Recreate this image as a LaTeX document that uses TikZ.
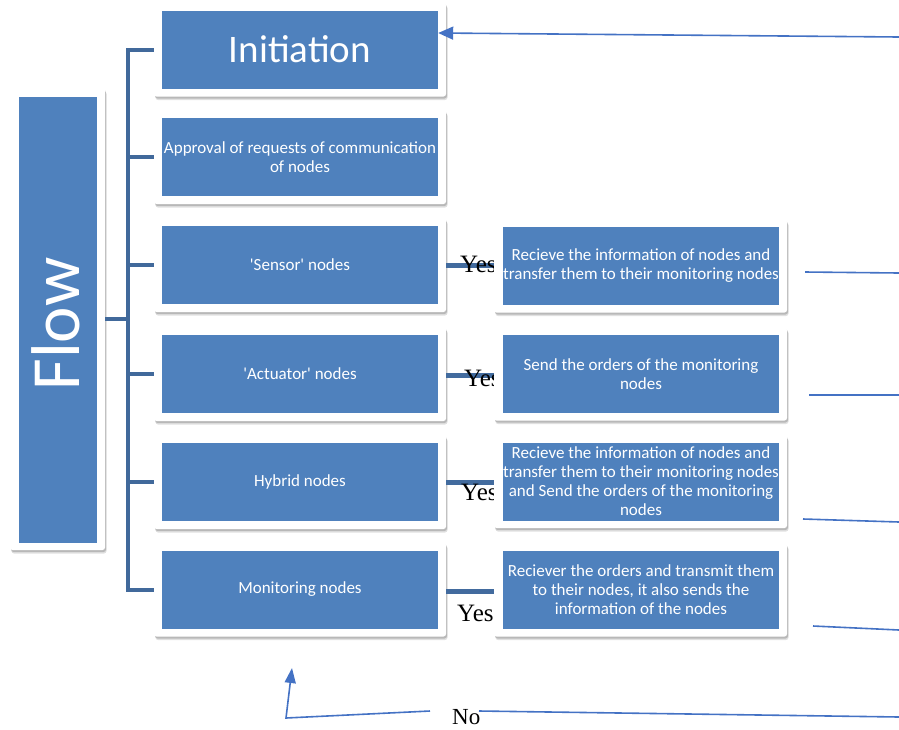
\documentclass[tikz,border=0pt]{standalone}
\usepackage{fontspec}
\setmainfont{Carlito}
\newfontfamily\timesf{Liberation Serif}
\usetikzlibrary{shadows,arrows.meta}
\definecolor{obox}{HTML}{4F81BD}
\definecolor{busc}{HTML}{41699B}
\definecolor{thinc}{HTML}{4472C4}
\begin{document}
\begin{tikzpicture}[x=1pt,y=-1pt,
  card/.style={fill=white, draw=none, rounded corners=2.5pt, inner sep=0pt,
    drop shadow={shadow xshift=1pt, shadow yshift=-2pt, opacity=0.18, fill=black},
    drop shadow={shadow xshift=1.5pt, shadow yshift=-3.5pt, opacity=0.12, fill=black}},
  blue/.style={fill=obox, draw=none, inner sep=0pt, text=white, align=center},
  lcard/.style={card, minimum width=292pt, minimum height=94pt},
  lblue/.style={blue, minimum width=276pt, minimum height=78pt, font=\fontsize{17}{19}\selectfont},
  rcard/.style={card, minimum width=293pt, minimum height=93pt},
  rblue/.style={blue, minimum width=276pt, minimum height=78pt, font=\fontsize{17}{19}\selectfont},
  busline/.style={draw=busc, line width=4pt},
  link/.style={draw=busc!90!obox, line width=5pt},
  thinline/.style={draw=thinc, line width=1.6pt},
  yes/.style={anchor=base west, inner sep=0pt, font=\timesf\fontsize{25}{25}\selectfont}
]
\useasboundingbox (0,0) rectangle (899,729);

% Flow
\node[card, minimum width=95pt, minimum height=462pt] (cFlow) at (57.5,319) {};
\node[blue, minimum width=78pt, minimum height=446pt] (flow) at (58,320) {};
\node[text=white, inner sep=0pt, rotate=90, font=\fontsize{69}{69}\selectfont] (flowt) at (56,324) {Flow};

% left cards
\node[lcard] (cInit) at (300,49.5) {};
\node[lblue, font=\fontsize{39}{39}\selectfont] (init) at (300,49.5) {Initiation};
\node[lcard] (cAppr) at (300,157) {};
\node[lblue] (appr) at (300,157) {Approval of requests of communication\\of nodes};
\node[lcard] (cSens) at (300,265) {};
\node[lblue] (sens) at (300,265) {\textquotesingle Sensor\textquotesingle\ nodes};
\node[lcard] (cAct) at (300,374) {};
\node[lblue] (act) at (300,374) {\textquotesingle Actuator\textquotesingle\ nodes};
\node[lcard] (cHyb) at (300,482) {};
\node[lblue] (hyb) at (300,482) {Hybrid nodes};
\node[lcard] (cMon) at (300,589.5) {};
\node[lblue] (mon) at (300,589.5) {Monitoring nodes};

% bus
\coordinate (busx) at (128,0);
\draw[busline] (cInit.west) -- (cInit.west -| busx) -- (cMon.west -| busx) -- (cMon.west);
\foreach \n in {cAppr,cSens,cAct,cHyb} \draw[busline] (\n.west) -- (\n.west -| busx);
\draw[busline] (cFlow.east) -- (cFlow.east -| busx);

% right card positions
\coordinate (rx) at (494,0);
% links
\draw[link] (cSens.east) -- (cSens.east -| rx);
\draw[link] ([yshift=-1pt]cAct.east) -- ([yshift=-1pt]cAct.east -| rx);
\draw[link] (cHyb.east) -- (cHyb.east -| rx);
\draw[link] ([yshift=-1.5pt]cMon.east) -- ([yshift=-1.5pt]cMon.east -| rx);

% Yes labels
\node[yes] (y1) at (460,272) {Yes};
\node[yes] (y2) at (464,386) {Yes};
\node[yes] (y3) at (461,500) {Yes};
\node[yes] (y4) at (457,621) {Yes};

% right cards
\node[rcard] (rc1) at (640.5,266) {};
\node[rblue] (r1) at (641,266) {Recieve the information of nodes and\\transfer them to their monitoring nodes};
\node[rcard] (rc2) at (640.5,374) {};
\node[rblue] (r2) at (641,374) {Send the orders of the monitoring\\nodes};
\node[rcard] (rc3) at (640.5,481.5) {};
\node[rblue] (r3) at (641,481.5) {Recieve the information of nodes and\\transfer them to their monitoring nodes\\and Send the orders of the monitoring\\nodes};
\node[rcard] (rc4) at (640.5,590) {};
\node[rblue] (r4) at (641,590) {Reciever the orders and transmit them\\to their nodes, it also sends the\\information of the nodes};

% thin lines on the right
\coordinate (t1a) at (805,272); \coordinate (t1b) at (899,273);
\coordinate (t2a) at (809,395); \coordinate (t2b) at (899,395);
\coordinate (t3a) at (803,519); \coordinate (t3b) at (899,522);
\coordinate (t4a) at (813,626); \coordinate (t4b) at (899,630);
\draw[thinline] (t1a) -- (t1b);
\draw[thinline] (t2a) -- (t2b);
\draw[thinline] (t3a) -- (t3b);
\draw[thinline] (t4a) -- (t4b);

% top arrow
\coordinate (a1) at (899,37);
\draw[thinline, -{Triangle[length=15pt,width=13pt]}] (a1) -- ([yshift=16.5pt]init.east);

% bottom
\node[anchor=base west, inner sep=0pt, font=\timesf\fontsize{23}{23}\selectfont] (no) at (452,724) {No};
\coordinate (b1) at (899,717);
\coordinate (b2) at (479,711);
\coordinate (b3) at (430,711);
\coordinate (b4) at (286,718);
\coordinate (b5) at (292,668);
\draw[thinline] (b2) -- (b1);
\draw[thinline, -{Triangle[length=15pt,width=11pt]}] (b3) -- (b4) -- (b5);
\end{tikzpicture}
\end{document}
